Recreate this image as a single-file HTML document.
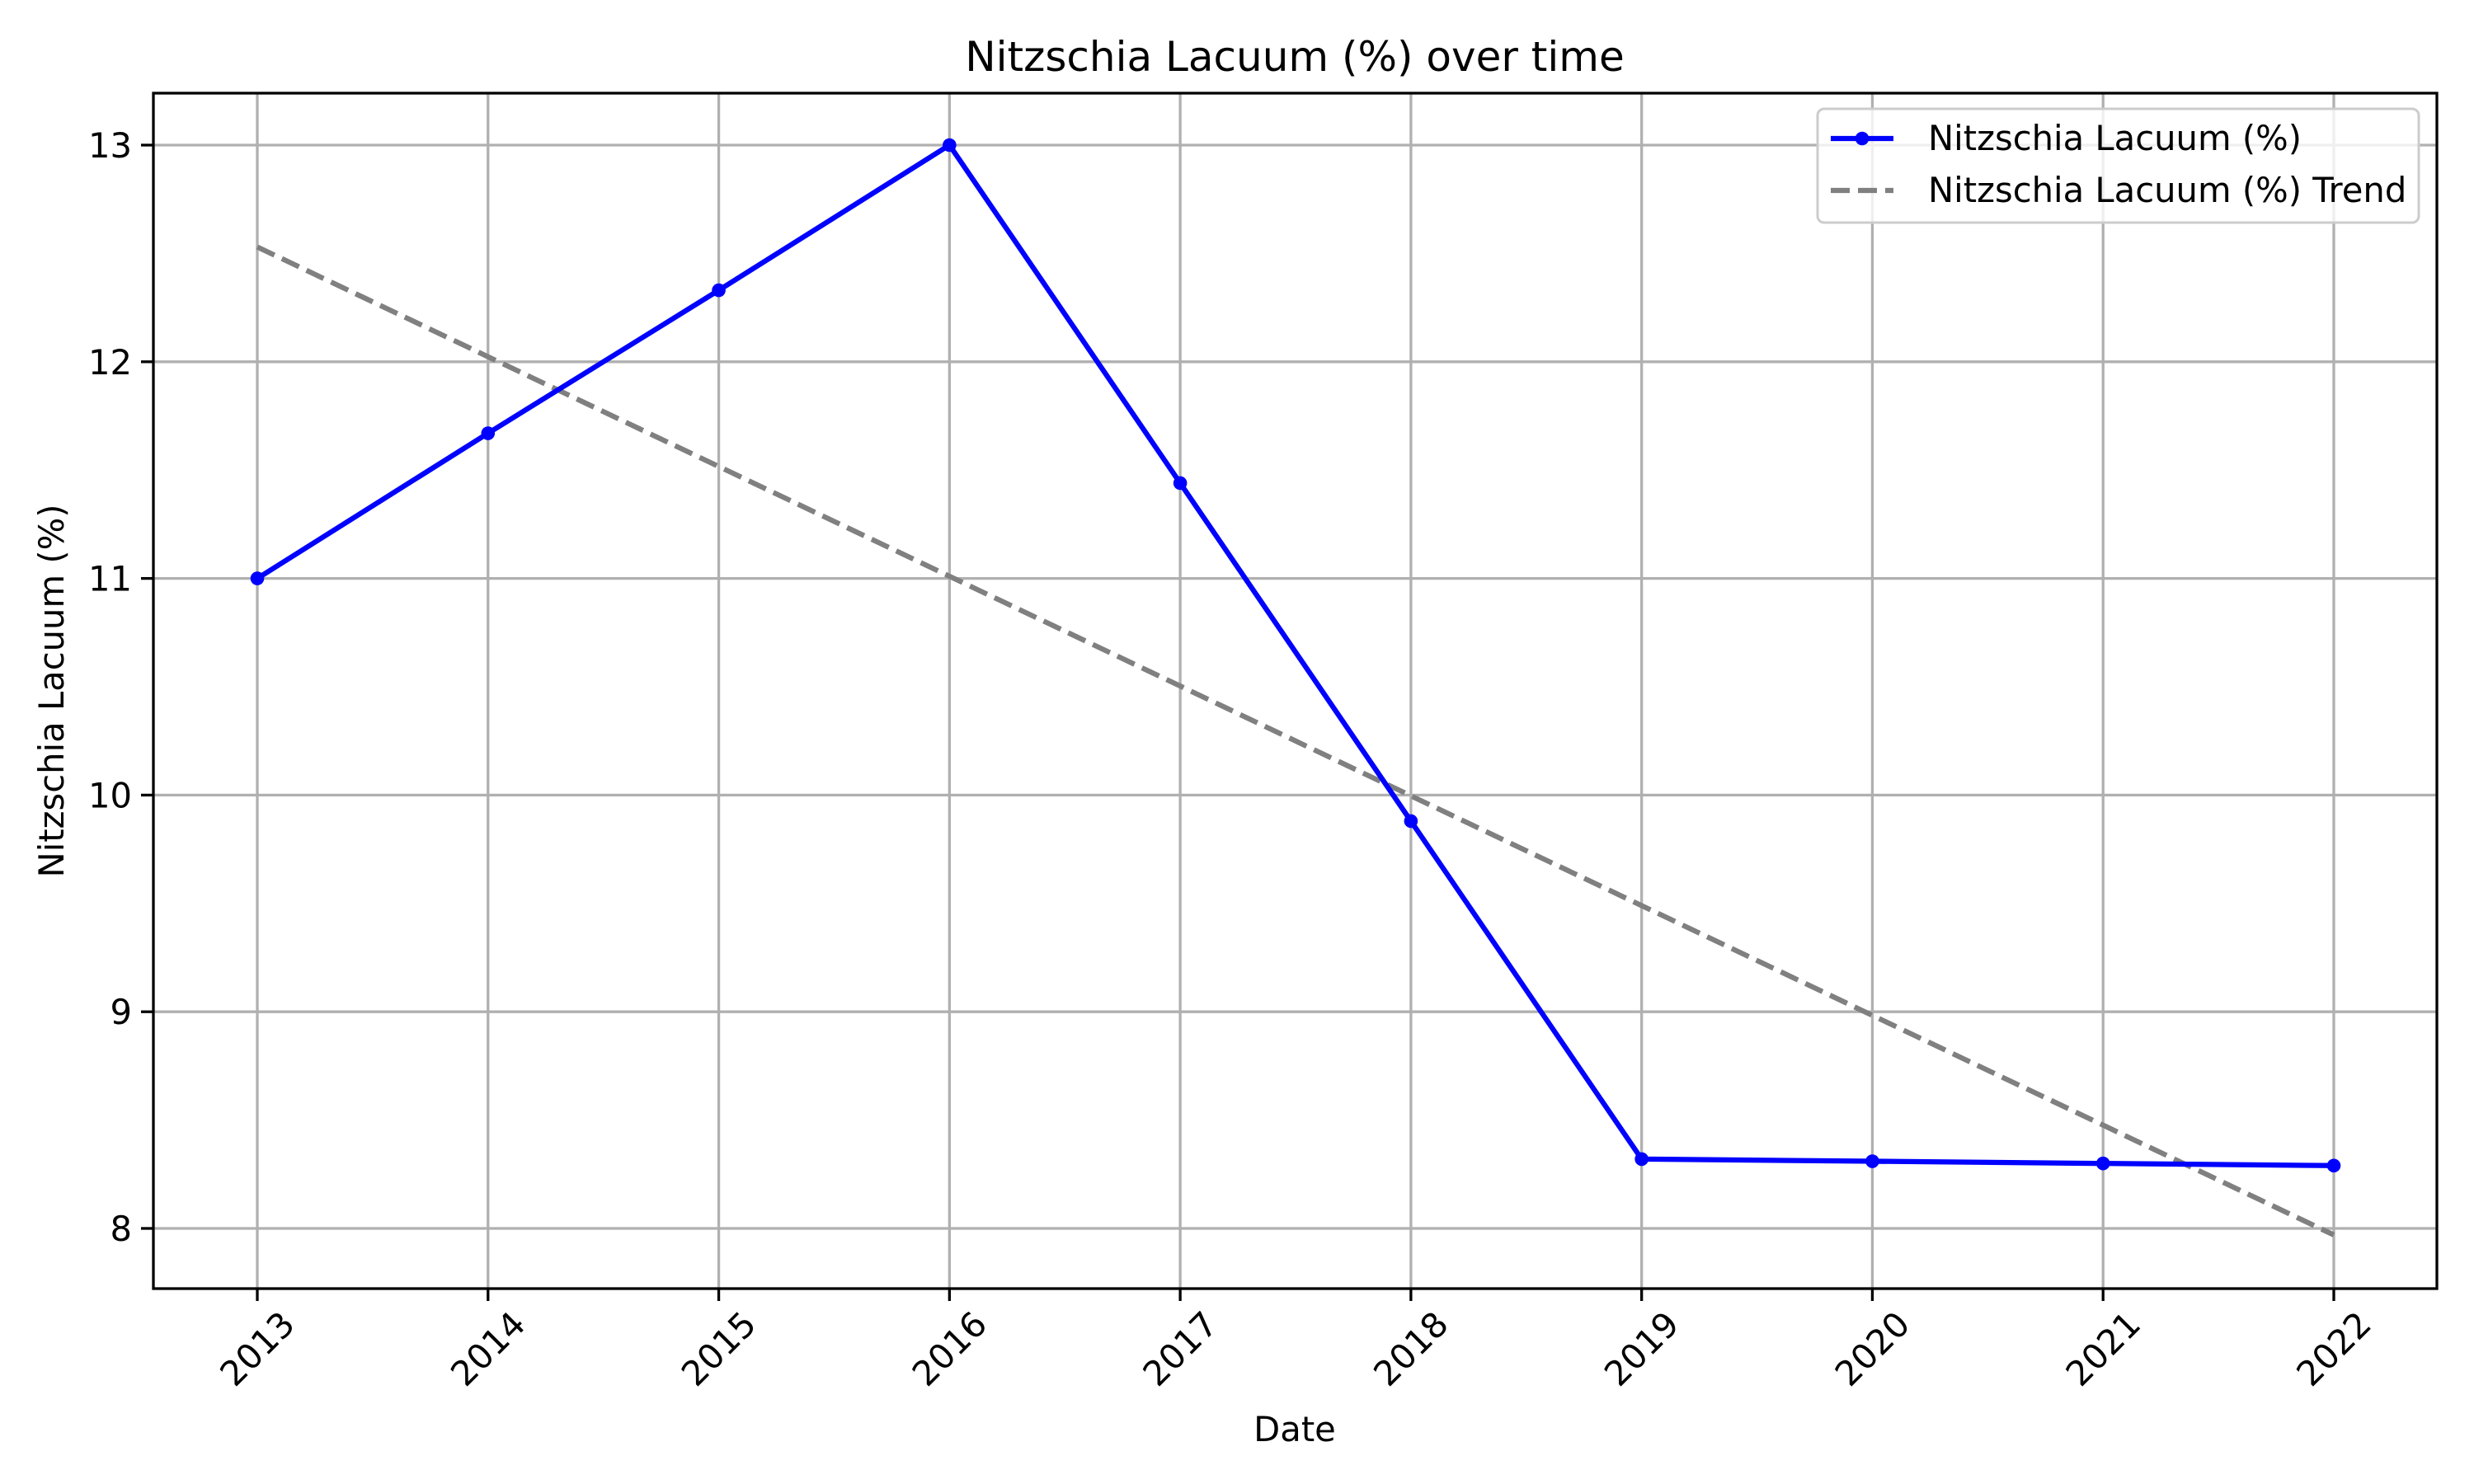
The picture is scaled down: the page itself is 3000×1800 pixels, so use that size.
<!DOCTYPE html>
<html><head><meta charset="utf-8"><style>
html,body{margin:0;padding:0;background:#fff;}
svg{display:block;font-family:"DejaVu Sans","Liberation Sans",sans-serif;}
</style></head><body>
<svg id="chart" width="3000" height="1800" viewBox="0 0 3000 1800" xmlns="http://www.w3.org/2000/svg">
<rect width="3000" height="1800" fill="#fff"/>
<text x="1570" y="86" font-size="50" text-anchor="middle">Nitzschia Lacuum (%) over time</text>
<text x="1570" y="1748" font-size="41.7" text-anchor="middle">Date</text>
<text transform="translate(77,838) rotate(-90)" font-size="41.7" text-anchor="middle">Nitzschia Lacuum (%)</text>
<g id="grid"></g>
<g id="marks"></g>
<rect x="186" y="113" width="2769" height="1450" fill="none" stroke="#000" stroke-width="3.3"/>
<g id="ticks"></g>
<g id="legend">
<rect x="2204" y="132" width="729" height="138" rx="8" fill="#fff" fill-opacity="0.8" stroke="#ccc" stroke-width="3"/>
<g>
<line x1="2220" y1="168" x2="2296" y2="168" stroke="#0000ff" stroke-width="6.25"/>
<circle cx="2258" cy="168" r="8.3" fill="#0000ff"/>
<text x="2338" y="182" font-size="41.7">Nitzschia Lacuum (%)</text>
</g>
<g>
<line x1="2220" y1="231" x2="2296" y2="231" stroke="#808080" stroke-width="6.25" stroke-dasharray="23,10"/>
<text x="2338" y="245" font-size="41.7">Nitzschia Lacuum (%) Trend</text>
</g>
</g>
</svg>
<script>
const years = [2013,2014,2015,2016,2017,2018,2019,2020,2021,2022];
const values = [11.0,11.67,12.33,13.0,11.44,9.88,8.32,8.31,8.30,8.29];
const trendStart = 12.53;
const trendEnd = 7.97;
const yTicks = [8,9,10,11,12,13];

const NS='http://www.w3.org/2000/svg';
function xs(y){return 312+(y-2013)*(2830-312)/9;}
function ys(v){return 1490-(v-8)*(1490-176)/5;}
function mk(tag,attrs,parent){const e=document.createElementNS(NS,tag);for(const k in attrs)e.setAttribute(k,attrs[k]);parent.appendChild(e);return e;}
const grid=document.getElementById('grid'),marks=document.getElementById('marks'),ticks=document.getElementById('ticks');
years.forEach(y=>{
  const g=mk('line',{x1:xs(y),x2:xs(y),y1:113,y2:1563,stroke:'#b0b0b0','stroke-width':3.3},grid);
  
  
  const t=mk('line',{x1:xs(y),x2:xs(y),y1:1563,y2:1578,stroke:'#000','stroke-width':3.3},ticks);
  
  
  const l=mk('text',{x:xs(y),y:1636,'font-size':41.7,'text-anchor':'middle','dominant-baseline':'central',transform:`rotate(-45 ${xs(y)} 1636)`},ticks);
  l.textContent=y;
  
  
});
yTicks.forEach(v=>{
  const g=mk('line',{x1:186,x2:2955,y1:ys(v),y2:ys(v),stroke:'#b0b0b0','stroke-width':3.3},grid);
  
  
  const t=mk('line',{x1:171,x2:186,y1:ys(v),y2:ys(v),stroke:'#000','stroke-width':3.3},ticks);
  
  
  const l=mk('text',{x:160,y:ys(v)+15,'font-size':41.7,'text-anchor':'end'},ticks);
  l.textContent=v;
  
  
});
const tr=mk('line',{x1:xs(years[0]),y1:ys(trendStart),x2:xs(years[years.length-1]),y2:ys(trendEnd),stroke:'#808080','stroke-width':6.25,'stroke-dasharray':'23,10'},marks);


const pl=mk('polyline',{points:years.map((y,i)=>xs(y)+','+ys(values[i])).join(' '),fill:'none',stroke:'#0000ff','stroke-width':6.25,'stroke-linejoin':'round'},marks);


years.forEach((y,i)=>{
  const c=mk('circle',{cx:xs(y),cy:ys(values[i]),r:8.3,fill:'#0000ff'},marks);
  
  
});
</script>
</body></html>
